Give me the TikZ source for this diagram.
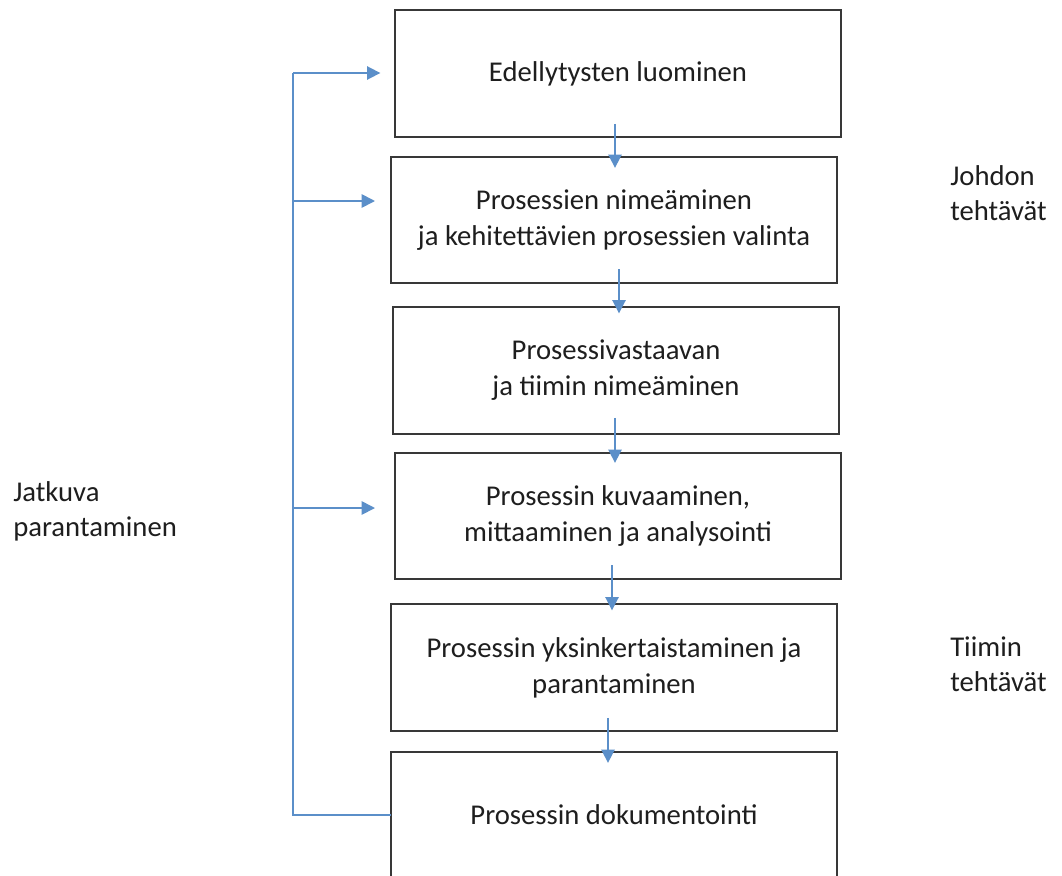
\documentclass[tikz,border=0pt]{standalone}
\usepackage{fontspec}
\setmainfont{Carlito}
\usetikzlibrary{arrows.meta,calc}
\definecolor{flowblue}{HTML}{5B8FC9}
\definecolor{ink}{HTML}{1E1E1E}
\begin{document}
\begin{tikzpicture}[x=0.75pt,y=-0.75pt,
  box/.style={draw=black!78, line width=1.6pt, fill=white,
    minimum width=334.5pt, minimum height=95pt, inner sep=0pt, outer sep=0pt,
    align=center, text=ink, font=\fontsize{21.5}{27}\selectfont},
  flow/.style={draw=flowblue, line width=1.3pt},
  arr/.style={flow, -{Triangle[length=10pt,width=10pt]}},
  side/.style={anchor=base west, align=left, text=ink, inner sep=0pt,
    font=\fontsize{21.5}{26}\selectfont}]
\useasboundingbox[fill=white] (0,0) rectangle (1062,875);

% process steps
\node[box] (b1) at (618,73.5) {Edellytysten luominen};
\node[box] (b2) at (614,220)  {Prosessien nimeäminen\\ja kehitettävien prosessien valinta};
\node[box] (b3) at (616,370.5){Prosessivastaavan\\ja tiimin nimeäminen};
\node[box] (b4) at (618,516)  {Prosessin kuvaaminen,\\mittaaminen ja analysointi};
\node[box] (b5) at (614,667.5){Prosessin yksinkertaistaminen ja\\parantaminen};
\node[box] (b6) at (614,815)  {Prosessin dokumentointi};

% side labels (anchored at the baseline of their last line)
\node[side] (lj) at (13,536)  {Jatkuva\\parantaminen};
\node[side] (lh) at (950,220) {Johdon\\tehtävät};
\node[side] (lt) at (950,691) {Tiimin\\tehtävät};

% downward flow between steps, crossing the box edges
\draw[arr] ($(b1.south)+(-3,-13)$) -- ($(b1.south)+(-3,31)$);
\draw[arr] ($(b2.south)+(5,-14)$)  -- ($(b2.south)+(5,30)$);
\draw[arr] ($(b3.south)+(-1,-16)$) -- ($(b3.south)+(-1,29)$);
\draw[arr] ($(b4.south)+(-6,-14)$) -- ($(b4.south)+(-6,31)$);
\draw[arr] ($(b5.south)+(-6,-13)$) -- ($(b5.south)+(-6,32)$);

% continuous improvement loop
\coordinate (s1) at (293,73);
\coordinate (s2) at (293,201);
\coordinate (s4) at (293,508);
\draw[flow] (b6.west) -| (s1);
\draw[arr, shorten >=11pt] (s1) -- (s1 -| b1.west);
\draw[arr, shorten >=12pt] (s2) -- (s2 -| b2.west);
\draw[arr, shorten >=15pt] (s4) -- (s4 -| b4.west);
\end{tikzpicture}
\end{document}
